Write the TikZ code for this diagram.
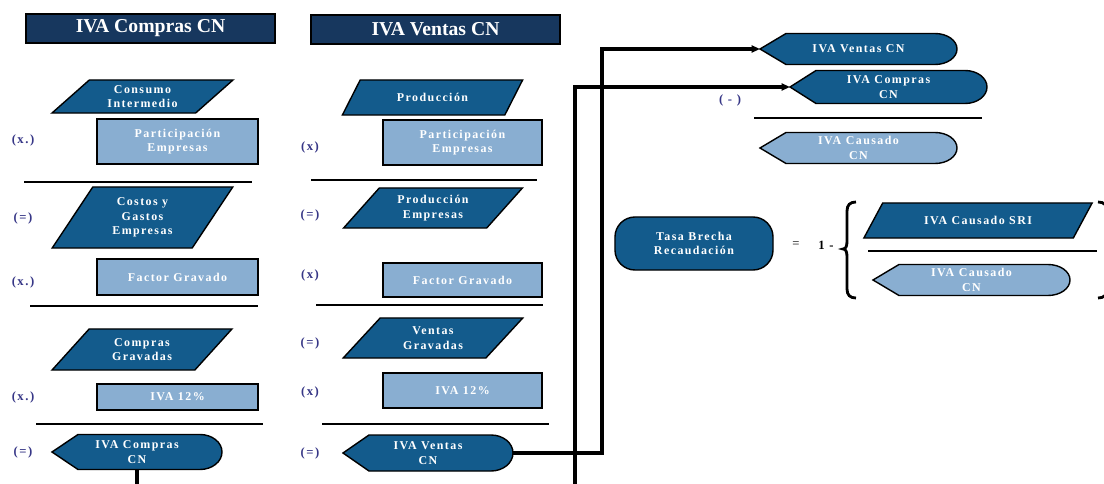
\documentclass[tikz,border=0pt]{standalone}
\usepackage{fontspec}
\newfontfamily\hdrfont{Liberation Serif}
\newfontfamily\boxfont[LetterSpace=12]{Liberation Serif}
\definecolor{hdrnavy}{RGB}{23,55,94}
\definecolor{midblue}{RGB}{19,91,140}
\definecolor{lightblue}{RGB}{137,174,209}
\definecolor{opcolor}{RGB}{55,55,135}
\usepackage{tikz}
\usetikzlibrary{arrows.meta, shapes.geometric, calc}

\tikzset{
  boxtext/.style={font=\boxfont\bfseries\fontsize{8.5}{10.3}\selectfont, text=white, align=center, inner sep=0pt},
  shapeline/.style={draw=black, line width=1pt},
  hdrbox/.style={shapeline, fill=hdrnavy, text=white, font=\hdrfont\bfseries\fontsize{14}{16}\selectfont,
    minimum width=6.225cm, minimum height=0.725cm, inner sep=0pt},
  para/.style 2 args={trapezium, trapezium stretches=true, trapezium left angle=#1, trapezium right angle=#2,
    shapeline, fill=midblue, boxtext},
  ratebox/.style={shapeline, fill=lightblue, boxtext},
  oplabel/.style={text=opcolor, font=\boxfont\bfseries\fontsize{9}{10}\selectfont, inner sep=0pt},
  sepline/.style={line width=1.9pt},
  conn/.style={line width=2.4pt, -{Triangle[length=6pt,width=5pt]}},
  brace/.style={line width=2pt},
}

% display shape: name, tip x, mid y, width, height, fill, text
\newcommand{\dispnode}[7]{%
  \coordinate (#1-w) at (#2,#3);
  \coordinate (#1-e) at ({#2+#4},#3);
  \coordinate (#1-s) at ({#2+#4/2},{#3+#5/2});
  \draw[shapeline, fill=#6] (#1-w) -- ++(26,{-#5/2}) -- ++({#4-48},0)
    arc[start angle=90, end angle=-90, x radius=0.55cm, y radius={#5*0.0125cm}]
    -- ++({48-#4},0) -- cycle;
  \node[boxtext] (#1) at ({#2+#4/2},#3) {#7};
}

\begin{document}
\begin{tikzpicture}[x=0.025cm, y=-0.025cm]
  \path[use as bounding box, fill=white] (0,0) rectangle (1104,484);

  % headers
  \node[hdrbox] (hdrCompras) at (150.5,28.5) {IVA Compras CN};
  \node[hdrbox] (hdrVentas) at (435.5,29.5) {IVA Ventas CN};

  % compras column
  \node[para={42.5}{137.5}, minimum width=4.525cm, minimum height=0.825cm] (consumo) at (142.5,96.5) {Consumo\\Intermedio};
  \node[ratebox, minimum width=4.025cm, minimum height=1.125cm] (partC) at (177.5,141.5) {Participación\\Empresas};
  \node[oplabel] (opC1) at (23,140) {(x.)};
  \draw[sepline] (24,182) -- (252,182);
  \node[para={58}{122}, minimum width=4.525cm, minimum height=1.525cm] (costos) at (142.5,217.5) {Costos y\\Gastos\\Empresas};
  \node[oplabel] (opC2) at (23,218) {(=)};
  \node[ratebox, minimum width=4.025cm, minimum height=0.9cm] (factorC) at (177.5,277) {Factor Gravado};
  \node[oplabel] (opC3) at (23,282) {(x.)};
  \draw[sepline] (30,306) -- (258,306);
  \node[para={47}{133}, minimum width=4.5cm, minimum height=1.025cm] (comprasGrav) at (142,349.5) {Compras\\Gravadas};
  \node[ratebox, minimum width=4.025cm, minimum height=0.65cm] (ivaC) at (177.5,397) {IVA 12\%};
  \node[oplabel] (opC4) at (23,397) {(x.)};
  \draw[sepline] (36,424) -- (263,424);
  \dispnode{comprasOut}{52}{452}{170}{35}{midblue}{IVA Compras\\CN}
  \node[oplabel] (opC5) at (23,452) {(=)};

  % ventas column
  \node[para={44}{136}, minimum width=4.525cm, minimum height=0.875cm] (produccion) at (432.5,97.5) {Producción};
  \node[ratebox, minimum width=3.975cm, minimum height=1.125cm] (partV) at (462.5,142.5) {Participación\\Empresas};
  \node[oplabel] (opV1) at (310,147) {(x)};
  \draw[sepline] (311,180) -- (537,180);
  \node[para={47}{133}, minimum width=4.5cm, minimum height=1cm] (prodEmp) at (433,208) {Producción\\Empresas};
  \node[oplabel] (opV2) at (310,215) {(=)};
  \node[ratebox, minimum width=3.975cm, minimum height=0.85cm] (factorV) at (462.5,280) {Factor Gravado};
  \node[oplabel] (opV3) at (310,275) {(x)};
  \draw[sepline] (316,305) -- (543,305);
  \node[para={47}{133}, minimum width=4.5cm, minimum height=1cm] (ventasGrav) at (433,338) {Ventas\\Gravadas};
  \node[oplabel] (opV4) at (310,343) {(=)};
  \node[ratebox, minimum width=3.975cm, minimum height=0.875cm] (ivaV) at (462.5,390.5) {IVA 12\%};
  \node[oplabel] (opV5) at (310,392) {(x)};
  \draw[sepline] (322,424) -- (549,424);
  \dispnode{ventasOut}{343}{453}{170}{36}{midblue}{IVA Ventas\\CN}
  \node[oplabel] (opV6) at (310,453) {(=)};

  % causado
  \dispnode{ventasR}{760}{49}{197}{31}{midblue}{IVA Ventas CN}
  \dispnode{comprasR}{790}{87}{197}{33}{midblue}{IVA Compras\\CN}
  \node[oplabel] (opMinus) at (730,100) {( - )};
  \draw[sepline] (754,118) -- (982,118);
  \dispnode{causadoR}{760}{148}{197}{31}{lightblue}{IVA Causado\\CN}

  % tasa brecha
  \node[shapeline, fill=midblue, rounded corners=0.5cm, boxtext, minimum width=3.95cm, minimum height=1.325cm] (tasa) at (694,243.5) {Tasa Brecha\\Recaudación};
  \node[oplabel, text=black!70] (eqSign) at (796,245) {=};
  \node[oplabel, text=black] (oneMinus) at (826,245) {1 -};
  \draw[brace] (856,202) .. controls (850,202) and (847,205) .. (847,211) -- (847,241)
    .. controls (847,246) and (846,249) .. (843,249) .. controls (846,249) and (847,252) .. (847,257)
    -- (847,289) .. controls (847,295) and (850,298) .. (856,298);
  \node[para={38.5}{141.5}, minimum width=5.75cm, minimum height=0.875cm] (causadoSRI) at (978,220.5) {IVA Causado SRI};
  \draw[sepline] (868,251) -- (1097,251);
  \dispnode{causadoCN}{873}{280}{197}{31}{lightblue}{IVA Causado\\CN}
  \draw[brace] (1098,202) .. controls (1104,202) and (1107,205) .. (1107,211) -- (1107,289)
    .. controls (1107,295) and (1104,298) .. (1098,298);

  % connectors
  \coordinate (loopC) at (575,510);
  \draw[conn] (ventasOut-e) -- ++(89,0) |- (ventasR-w);
  \draw[conn] (comprasOut-s) |- (loopC) |- (comprasR-w);
\end{tikzpicture}
\end{document}
